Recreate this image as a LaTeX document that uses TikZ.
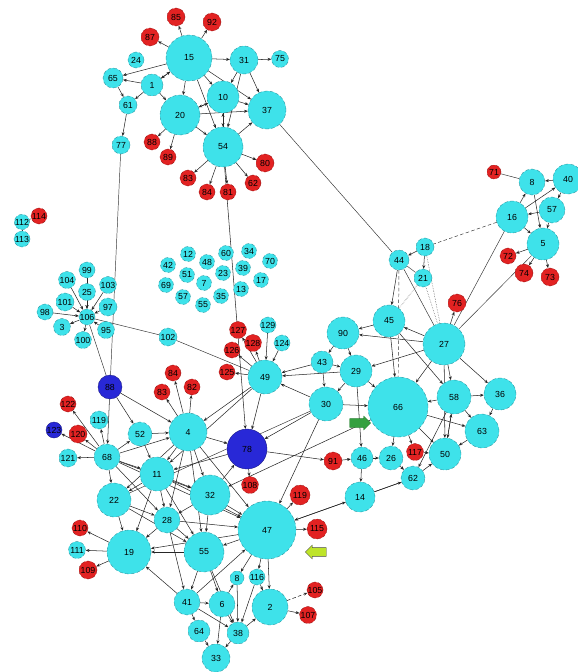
\documentclass[tikz,border=0pt]{standalone}
\usepackage{fontspec}
\setmainfont{Liberation Sans}
\usepackage{xcolor}
\definecolor{colCyan}{RGB}{62,226,234}
\definecolor{colCyanLine}{RGB}{40,140,150}
\definecolor{colRed}{RGB}{226,34,34}
\definecolor{colRedLine}{RGB}{140,20,20}
\definecolor{colBlue}{RGB}{40,40,215}
\definecolor{colGreen}{RGB}{52,160,64}
\definecolor{colLime}{RGB}{190,228,40}
\usepackage{tikz}
\usetikzlibrary{arrows.meta, positioning, shapes.arrows, backgrounds}
\newcommand{\nodefont}{\fontsize{7.5}{8}\selectfont}
\tikzset{
	cynode/.style={circle, fill=colCyan, draw=colCyanLine, densely dashed, line width=0.3pt, minimum size=#1*0.3mm, inner sep=0pt, font=\nodefont},
	rdnode/.style={circle, fill=colRed, draw=colRedLine, densely dashed, line width=0.3pt, minimum size=#1*0.3mm, inner sep=0pt, font=\nodefont},
	blnode/.style={circle, fill=colBlue, draw=colBlue!60!black, line width=0.3pt, minimum size=#1*0.3mm, inner sep=0pt, font=\nodefont},
	netarr/.style={-{Stealth[length=3.2pt, width=2.6pt]}, line width=0.45pt, draw=black!85},
	netline/.style={line width=0.4pt, draw=black!80},
	markarrow/.style={single arrow, fill=#1, minimum height=21*0.3mm, minimum width=14*0.3mm, inner xsep=0pt, inner ysep=3.2pt, single arrow head extend=2pt},
}

\begin{document}
\begin{tikzpicture}[x=0.3mm, y=-0.3mm]
	\useasboundingbox (0,0) rectangle (578,672);
	% top cluster
	\node[cynode=46] (n15) at (189,58) {15};
	\node[rdnode=18] (n85) at (176,17) {85};
	\node[rdnode=18] (n92) at (212,22) {92};
	\node[rdnode=18] (n87) at (150,37) {87};
	\node[cynode=16] (n24) at (136,60) {24};
	\node[cynode=20] (n65) at (113,78) {65};
	\node[cynode=22] (n1) at (152,85) {1};
	\node[cynode=18] (n61) at (128,105) {61};
	\node[cynode=18] (n77) at (121,145) {77};
	\node[cynode=28] (n31) at (244,60) {31};
	\node[cynode=17] (n75) at (280,59) {75};
	\node[cynode=32] (n10) at (223,97) {10};
	\node[cynode=40] (n20) at (180,115) {20};
	\node[cynode=38] (n37) at (267,110) {37};
	\node[cynode=40] (n54) at (223,147) {54};
	\node[rdnode=16] (n88t) at (152,142) {88};
	\node[rdnode=16] (n89) at (168,157) {89};
	\node[rdnode=16] (n83t) at (188,178) {83};
	\node[rdnode=16] (n84t) at (207,192) {84};
	\node[rdnode=16] (n81) at (228,192) {81};
	\node[rdnode=16] (n62t) at (253,183) {62};
	\node[rdnode=18] (n80) at (265,163) {80};
	% left top pair
	\node[cynode=14] (n112) at (22,222) {112};
	\node[rdnode=16] (n114) at (39,216) {114};
	\node[cynode=16] (n113) at (22,239) {113};
	% left star
	\node[cynode=16] (n99) at (87,270) {99};
	\node[cynode=17] (n104) at (67,280) {104};
	\node[cynode=17] (n25) at (87,292) {25};
	\node[cynode=17] (n103) at (108,285) {103};
	\node[cynode=18] (n101) at (65,302) {101};
	\node[cynode=18] (n97) at (108,307) {97};
	\node[cynode=16] (n98) at (45,312) {98};
	\node[cynode=16] (n106) at (87,317) {106};
	\node[cynode=17] (n3) at (62,327) {3};
	\node[cynode=17] (n95) at (106,330) {95};
	\node[cynode=17] (n100) at (83,340) {100};
	\node[cynode=18] (n102) at (168,337) {102};
	% loose nodes
	\node[cynode=15] (n12) at (188,254) {12};
	\node[cynode=15] (n42) at (168,265) {42};
	\node[cynode=15] (n48) at (207,262) {48};
	\node[cynode=15] (n60) at (226,253) {60};
	\node[cynode=15] (n34) at (249,251) {34};
	\node[cynode=15] (n70) at (270,261) {70};
	\node[cynode=15] (n51) at (187,275) {51};
	\node[cynode=15] (n23) at (223,273) {23};
	\node[cynode=15] (n39) at (243,268) {39};
	\node[cynode=15] (n17) at (261,280) {17};
	\node[cynode=15] (n69) at (166,285) {69};
	\node[cynode=15] (n7) at (204,283) {7};
	\node[cynode=15] (n57b) at (183,297) {57};
	\node[cynode=15] (n55b) at (203,305) {55};
	\node[cynode=15] (n35) at (221,296) {35};
	\node[cynode=15] (n13) at (241,289) {13};
	% middle
	\node[rdnode=17] (n127) at (238,330) {127};
	\node[cynode=16] (n129) at (268,325) {129};
	\node[rdnode=17] (n128) at (253,343) {128};
	\node[cynode=16] (n124) at (282,343) {124};
	\node[rdnode=16] (n126) at (232,350) {126};
	\node[rdnode=16] (n125) at (227,372) {125};
	\node[cynode=34] (n49) at (265,377) {49};
	\node[cynode=22] (n43) at (322,362) {43};
	\node[cynode=34] (n30) at (326,404) {30};
	\node[cynode=32] (n29) at (356,371) {29};
	\node[cynode=32] (n90) at (343,333) {90};
	\node[cynode=32] (n45) at (389,321) {45};
	\node[cynode=42] (n27) at (444,344) {27};
	\node[cynode=60] (n66) at (398,407) {66};
	\node[cynode=34] (n58) at (454,397) {58};
	\node[cynode=32] (n36) at (500,394) {36};
	\node[cynode=34] (n63) at (482,431) {63};
	\node[rdnode=17] (n117) at (415,452) {117};
	\node[cynode=32] (n50) at (445,454) {50};
	\node[rdnode=18] (n91) at (333,461) {91};
	\node[cynode=22] (n46) at (362,458) {46};
	\node[cynode=24] (n26) at (391,458) {26};
	\node[cynode=24] (n62) at (413,478) {62};
	\node[cynode=30] (n14) at (360,497) {14};
	\node[rdnode=20] (n119r) at (300,495) {119};
	\node[rdnode=20] (n115) at (317,529) {115};
	% upper right
	\node[rdnode=14] (n71) at (494,172) {71};
	\node[cynode=26] (n8) at (532,182) {8};
	\node[cynode=30] (n40) at (568,179) {40};
	\node[cynode=32] (n16) at (512,217) {16};
	\node[cynode=26] (n57) at (552,210) {57};
	\node[cynode=32] (n5) at (543,244) {5};
	\node[rdnode=16] (n72) at (508,256) {72};
	\node[rdnode=18] (n74) at (524,273) {74};
	\node[rdnode=18] (n73) at (550,277) {73};
	\node[rdnode=18] (n76) at (457,303) {76};
	\node[cynode=18] (n18) at (425,247) {18};
	\node[cynode=20] (n44) at (399,260) {44};
	\node[cynode=18] (n21) at (423,278) {21};
	% lower left
	\node[blnode=24] (n88) at (110,387) {88};
	\node[rdnode=16] (n84) at (173,373) {84};
	\node[rdnode=16] (n82) at (192,387) {82};
	\node[rdnode=16] (n83) at (162,392) {83};
	\node[rdnode=16] (n122) at (68,404) {122};
	\node[cynode=18] (n119) at (99,420) {119};
	\node[blnode=16] (n123) at (54,430) {123};
	\node[rdnode=18] (n120) at (78,434) {120};
	\node[cynode=24] (n52) at (140,434) {52};
	\node[cynode=38] (n4) at (188,432) {4};
	\node[cynode=18] (n121) at (68,458) {121};
	\node[cynode=26] (n68) at (107,457) {68};
	\node[cynode=34] (n11) at (157,474) {11};
	\node[cynode=34] (n22) at (114,500) {22};
	\node[cynode=26] (n28) at (167,520) {28};
	\node[rdnode=16] (n110) at (80,528) {110};
	\node[blnode=40] (n78) at (247,449) {78};
	\node[cynode=40] (n32) at (210,495) {32};
	\node[rdnode=17] (n108) at (250,485) {108};
	\node[cynode=58] (n47) at (267,530) {47};
	\node[cynode=44] (n19) at (129,552) {19};
	\node[cynode=17] (n111) at (77,550) {111};
	\node[rdnode=18] (n109) at (88,570) {109};
	\node[cynode=40] (n55) at (204,552) {55};
	\node[cynode=14] (n8b) at (237,578) {8};
	\node[cynode=16] (n116) at (257,577) {116};
	\node[rdnode=16] (n105) at (315,590) {105};
	\node[rdnode=17] (n107) at (308,615) {107};
	\node[cynode=36] (n2) at (270,607) {2};
	\node[cynode=26] (n41) at (187,602) {41};
	\node[cynode=26] (n6) at (222,604) {6};
	\node[cynode=22] (n64) at (199,631) {64};
	\node[cynode=22] (n38) at (238,633) {38};
	\node[cynode=28] (n33) at (216,658) {33};
	% marker arrows
	\node[markarrow=colGreen, draw=colGreen!80!black, line width=0.3pt] (gmark) at (358,423) {};
	\node[markarrow=colLime, shape border rotate=180, draw=black!70, line width=0.3pt] (ymark) at (318,552) {};

	\begin{scope}[on background layer]
	% top cluster edges
	\draw[netarr] (n15) -- (n85); \draw[netarr] (n15) -- (n92); \draw[netarr] (n15) -- (n87);
	\draw[netarr] (n15) -- (n31); \draw[netarr] (n15) -- (n10); \draw[netarr] (n15) -- (n20);
	\draw[netarr] (n15) -- (n54); \draw[netarr] (n15) -- (n37); \draw[netarr] (n1) -- (n15);
	\draw[netarr] (n15) -- (n65); \draw[netarr] (n1) -- (n65); \draw[netarr] (n1) -- (n61);
	\draw[netarr] (n65) -- (n61); \draw[netarr] (n61) -- (n77); \draw[netarr] (n1) -- (n20);
	\draw[netarr] (n20) -- (n10); \draw[netarr] (n10) -- (n37); \draw[netarr] (n20) -- (n37);
	\draw[netarr] (n20) -- (n54); \draw[netarr] (n10) -- (n54); \draw[netarr] (n54) -- (n10);
	\draw[netarr] (n31) -- (n75); \draw[netarr] (n31) -- (n10); \draw[netarr] (n31) -- (n54);
	\draw[netarr] (n31) -- (n37); \draw[netarr] (n54) -- (n37); \draw[netarr] (n15) -- (n1);
	\draw[netarr] (n20) -- (n88t); \draw[netarr] (n20) -- (n89); \draw[netarr] (n54) -- (n83t);
	\draw[netarr] (n54) -- (n84t); \draw[netarr] (n54) -- (n81); \draw[netarr] (n54) -- (n62t);
	\draw[netarr] (n54) -- (n80); \draw[netarr] (n10) -- (n20);
	% long links
	\draw[netline] (n77) -- (n88);
	\draw[netarr] (n54) -- (n78);
	\draw[netline] (n37) -- (n44);
	\draw[netline] (n112) -- (n114); \draw[netline] (n112) -- (n113);
	% left star
	\draw[netarr] (n99) -- (n106); \draw[netarr] (n104) -- (n106); \draw[netarr] (n25) -- (n106);
	\draw[netarr] (n103) -- (n106); \draw[netarr] (n101) -- (n106); \draw[netarr] (n97) -- (n106);
	\draw[netarr] (n98) -- (n106); \draw[netarr] (n106) -- (n3); \draw[netarr] (n95) -- (n106);
	\draw[netarr] (n106) -- (n100); \draw[netline] (n106) -- (n102); \draw[netline] (n102) -- (n49);
	\draw[netline] (n106) -- (n88);
	% upper right
	\draw[netline] (n71) -- (n8); \draw[netarr] (n40) -- (n8); \draw[netarr] (n16) -- (n8);
	\draw[netarr] (n8) -- (n5); \draw[netarr] (n57) -- (n16); \draw[netarr] (n16) -- (n40);
	\draw[netarr] (n40) -- (n57); \draw[netarr] (n16) -- (n5); \draw[netarr] (n57) -- (n5);
	\draw[netarr] (n5) -- (n72); \draw[netarr] (n5) -- (n74); \draw[netarr] (n5) -- (n73);
	\draw[netline, densely dashed] (n16) -- (n18); \draw[netarr] (n18) -- (n44); \draw[netarr] (n18) -- (n21);
	\draw[netline] (n44) -- (n21); \draw[netline] (n16) -- (n27); \draw[netarr] (n27) -- (n76);
	\draw[netline] (n5) -- (n27); \draw[netarr] (n44) -- (n45); \draw[netline] (n44) -- (n27);
	\draw[netline, densely dashed] (n44) -- (n66); \draw[netline, densely dotted] (n21) -- (n27);
	\draw[netline, densely dotted] (n21) -- (n45); \draw[netline, densely dotted] (n18) -- (n27);
	% middle
	\draw[netarr] (n49) -- (n125); \draw[netarr] (n49) -- (n126); \draw[netarr] (n49) -- (n127);
	\draw[netarr] (n49) -- (n128); \draw[netarr] (n129) -- (n49); \draw[netarr] (n124) -- (n49);
	\draw[netarr] (n43) -- (n49); \draw[netarr] (n30) -- (n49); \draw[netarr] (n29) -- (n49);
	\draw[netarr] (n49) -- (n4); \draw[netarr] (n45) -- (n90); \draw[netarr] (n90) -- (n43);
	\draw[netarr] (n90) -- (n29); \draw[netarr] (n43) -- (n30); \draw[netarr] (n29) -- (n30);
	\draw[netarr] (n30) -- (n66); \draw[netarr] (n29) -- (n66); \draw[netarr] (n27) -- (n29);
	\draw[netarr] (n27) -- (n45); \draw[netarr] (n27) -- (n90); \draw[netarr] (n27) -- (n58);
	\draw[netarr] (n27) -- (n66); \draw[netarr] (n58) -- (n66); \draw[netarr] (n45) -- (n66);
	\draw[netarr] (n45) -- (n58); \draw[netarr] (n58) -- (n36); \draw[netarr] (n36) -- (n63);
	\draw[netarr] (n58) -- (n63); \draw[netarr] (n63) -- (n50); \draw[netarr] (n50) -- (n58);
	\draw[netarr] (n66) -- (n63); \draw[netarr] (n66) -- (n50); \draw[netarr] (n27) -- (n36);
	\draw[netarr] (n27) -- (n50); \draw[netarr] (n46) -- (n26); \draw[netarr] (n26) -- (n62);
	\draw[netarr] (n62) -- (n50); \draw[netarr] (n117) -- (n50); \draw[netarr] (n66) -- (n117);
	\draw[netarr] (n91) -- (n46); \draw[netarr] (n78) -- (n91); \draw[netarr] (n46) -- (n14);
	\draw[netarr] (n14) -- (n62); \draw[netarr] (n30) -- (n78); \draw[netarr] (n30) -- (n47);
	\draw[netarr] (n58) -- (n50); \draw[netarr] (n58) -- (n62); \draw[netarr] (n47) -- (n14);
	\draw[netarr] (n29) -- (n46); \draw[netarr] (n43) -- (n29); \draw[netarr] (n66) -- (n26);
	\draw[netarr] (n62) -- (n47); \draw[netline] (n30) -- (n22); \draw[netarr] (n66) -- (n32);
	% lower left
	\draw[netarr] (n88) -- (n68); \draw[netarr] (n88) -- (n52); \draw[netarr] (n88) -- (n4);
	\draw[netarr] (n68) -- (n122); \draw[netarr] (n68) -- (n120); \draw[netarr] (n68) -- (n123);
	\draw[netarr] (n68) -- (n119); \draw[netarr] (n68) -- (n121); \draw[netarr] (n68) -- (n52);
	\draw[netarr] (n68) -- (n4); \draw[netarr] (n68) -- (n11); \draw[netarr] (n68) -- (n22);
	\draw[netarr] (n68) -- (n32); \draw[netarr] (n68) -- (n28); \draw[netarr] (n68) -- (n47);
	\draw[netarr] (n4) -- (n84); \draw[netarr] (n4) -- (n83); \draw[netarr] (n4) -- (n82);
	\draw[netarr] (n52) -- (n4); \draw[netarr] (n4) -- (n78); \draw[netarr] (n4) -- (n11);
	\draw[netarr] (n4) -- (n32); \draw[netarr] (n4) -- (n22); \draw[netarr] (n4) -- (n28);
	\draw[netarr] (n4) -- (n47); \draw[netarr] (n11) -- (n32); \draw[netarr] (n11) -- (n22);
	\draw[netarr] (n11) -- (n28); \draw[netarr] (n11) -- (n19); \draw[netarr] (n11) -- (n55);
	\draw[netarr] (n11) -- (n47); \draw[netarr] (n22) -- (n19); \draw[netarr] (n22) -- (n28);
	\draw[netarr] (n28) -- (n19); \draw[netarr] (n28) -- (n55); \draw[netarr] (n28) -- (n47);
	\draw[netarr] (n32) -- (n55); \draw[netarr] (n32) -- (n47); \draw[netarr] (n32) -- (n28);
	\draw[netarr] (n32) -- (n78); \draw[netarr] (n78) -- (n108); \draw[netarr] (n47) -- (n119r);
	\draw[netarr] (n47) -- (n115); \draw[netarr] (n47) -- (n55); \draw[netarr] (n47) -- (n19);
	\draw[netarr] (n47) -- (n2); \draw[netarr] (n41) -- (n47); \draw[netarr] (n47) -- (n116);
	\draw[netarr] (n47) -- (n8b); \draw[netarr] (n55) -- (n19); \draw[netarr] (n55) -- (n6);
	\draw[netarr] (n55) -- (n41); \draw[netarr] (n19) -- (n110); \draw[netarr] (n19) -- (n111);
	\draw[netarr] (n19) -- (n109); \draw[netarr] (n41) -- (n19); \draw[netarr] (n41) -- (n6);
	\draw[netarr] (n41) -- (n64); \draw[netarr] (n41) -- (n38); \draw[netarr] (n6) -- (n38);
	\draw[netarr] (n6) -- (n8b); \draw[netarr] (n64) -- (n33); \draw[netarr] (n38) -- (n33);
	\draw[netarr, densely dashed] (n2) -- (n105); \draw[netarr] (n2) -- (n107); \draw[netarr] (n38) -- (n2);
	\draw[netarr] (n116) -- (n2); \draw[netarr] (n8b) -- (n38); \draw[netarr] (n6) -- (n33);
	\draw[netarr] (n55) -- (n38); \draw[netarr] (n49) -- (n78); \draw[netarr] (n52) -- (n11);
	\draw[netarr] (n4) -- (n55); \draw[netarr] (n22) -- (n55); \draw[netarr] (n116) -- (n38);
	\draw[netarr] (n78) -- (n11); \draw[netarr] (n49) -- (n11); \draw[netarr] (n28) -- (n41);
	\end{scope}
\end{tikzpicture}
\end{document}
